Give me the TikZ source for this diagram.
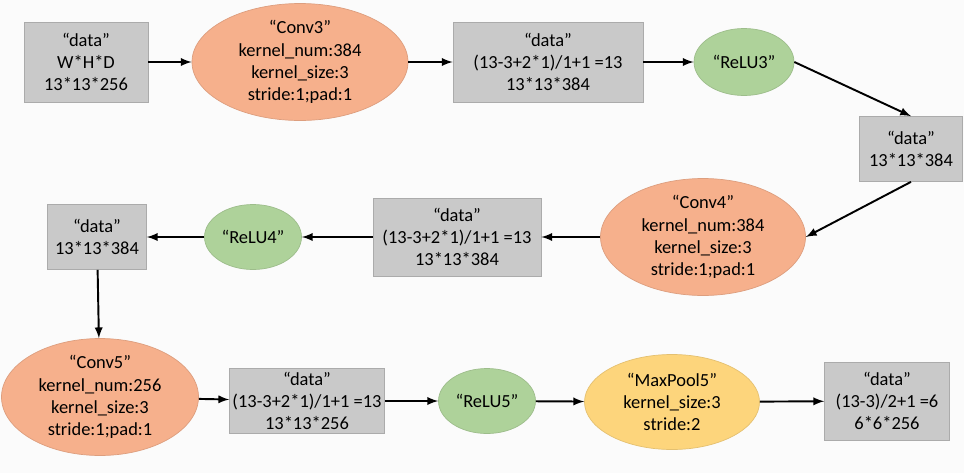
\documentclass[tikz,border=0pt]{standalone}
\usepackage{fontspec}
\setmainfont{Carlito}
\usetikzlibrary{shapes.geometric}
\definecolor{datagray}{HTML}{C9C9C9}
\definecolor{convorange}{HTML}{F6B08C}
\definecolor{relugreen}{HTML}{AED29A}
\definecolor{poolyellow}{HTML}{FDD57C}
\begin{document}
\begin{tikzpicture}[>=latex, line width=1.1pt, font=\fontsize{10.5}{12.6}\selectfont,
  data node/.style={rectangle,fill=datagray,draw=datagray!85!black,line width=0.4pt,align=center,inner sep=0pt},
  conv node/.style={ellipse,fill=convorange,draw=convorange!90!black,line width=0.4pt,align=center,inner sep=0pt},
  relu node/.style={ellipse,fill=relugreen,draw=relugreen!90!black,line width=0.4pt,align=center,inner sep=0pt},
  pool node/.style={ellipse,fill=poolyellow,draw=poolyellow!90!black,line width=0.4pt,align=center,inner sep=0pt}]
\fill[white!97!gray] (0,0) rectangle (19.28,-9.46);
\useasboundingbox (0,0) rectangle (19.28,-9.46);
% first row
\node [data node,minimum width=2.48cm,minimum height=1.6cm](d1) at (1.72,-1.24) {“data”\\W*H*D\\13*13*256};
\node [conv node,minimum width=4.32cm,minimum height=2.1cm](conv3) at (6.0,-1.24) {“Conv3”\\kernel\_num:384\\kernel\_size:3\\stride:1;pad:1};
\node [data node,minimum width=3.8cm,minimum height=1.6cm](d2) at (10.96,-1.24) {“data”\\(13-3+2*1)/1+1 =13\\13*13*384};
\node [relu node,minimum width=2.0cm,minimum height=1.34cm](relu3) at (14.88,-1.24) {“ReLU3”};
\node [data node,minimum width=2.06cm,minimum height=1.3cm](d3) at (18.22,-2.98) {“data”\\13*13*384};
% second row
\node [conv node,minimum width=4.1cm,minimum height=1.88cm](conv4) at (14.06,-4.74) {“Conv4”\\kernel\_num:384\\kernel\_size:3\\stride:1;pad:1};
\node [data node,minimum width=3.36cm,minimum height=1.56cm](d4) at (9.14,-4.74) {“data”\\(13-3+2*1)/1+1 =13\\13*13*384};
\node [relu node,minimum width=1.94cm,minimum height=1.3cm](relu4) at (5.06,-4.74) {“ReLU4”};
\node [data node,minimum width=1.98cm,minimum height=1.3cm](d5) at (1.94,-4.74) {“data”\\13*13*384};
% third row
\node [conv node,minimum width=3.94cm,minimum height=2.3cm](conv5) at (2.0,-7.94) {“Conv5”\\kernel\_num:256\\kernel\_size:3\\stride:1;pad:1};
\node [data node,minimum width=3.1cm,minimum height=1.3cm](d6) at (6.14,-8.02) {“data”\\(13-3+2*1)/1+1 =13\\13*13*256};
\node [relu node,minimum width=1.94cm,minimum height=1.3cm](relu5) at (9.74,-8.02) {“ReLU5”};
\node [pool node,minimum width=3.5cm,minimum height=1.9cm](pool5) at (13.44,-8.04) {“MaxPool5”\\kernel\_size:3\\stride:2};
\node [data node,minimum width=2.5cm,minimum height=1.56cm](d7) at (17.74,-8.02) {“data”\\(13-3)/2+1 =6\\6*6*256};
\path [->]
	(d1) edge (conv3)
	(conv3) edge (d2)
	(d2) edge (relu3)
	(relu3.east) edge (d3.north)
	(d3.south) edge (conv4.east)
	(conv4) edge (d4)
	(d4) edge (relu4)
	(relu4) edge (d5)
	(d5) edge (conv5)
	(conv5) edge (d6)
	(d6) edge (relu5)
	(relu5) edge (pool5)
	(pool5) edge (d7)
	;
\end{tikzpicture}
\end{document}
